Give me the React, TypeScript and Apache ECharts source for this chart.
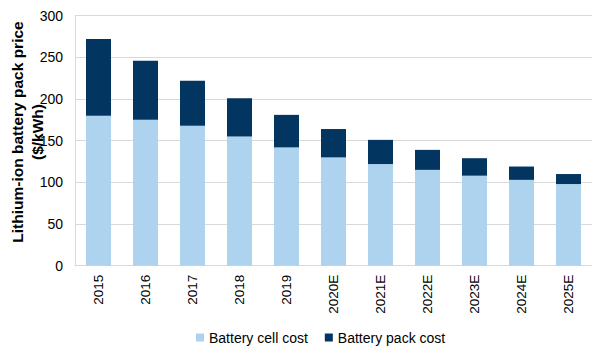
import React, { useEffect, useRef } from "react";
import * as echarts from "echarts";

const categories = ["2015", "2016", "2017", "2018", "2019", "2020E", "2021E", "2022E", "2023E", "2024E", "2025E"];
const cellCost = [180, 175, 168, 155, 142, 130, 122, 115, 108, 103, 98];
const packCost = [92, 71, 54, 46, 39, 34, 29, 24, 21, 16, 12];
const yTicks = { min: 0, max: 300, interval: 50 };

export default function App() {
  const ref = useRef<HTMLDivElement>(null);
  useEffect(() => {
    if (!ref.current) return;
    const chart = echarts.init(ref.current, null, { renderer: "svg" });
    const font = "Liberation Sans, Arial, sans-serif";
    chart.setOption({
      animation: false,
      textStyle: { fontFamily: font },
      grid: { left: 75, top: 15.7, width: 521, height: 250 },
      legend: {
        left: 196,
        top: 330,
        itemWidth: 8,
        itemHeight: 8,
        itemGap: 17,
        padding: 0,
        icon: "rect",
        textStyle: { fontSize: 14, color: "#000", fontFamily: font, lineHeight: 15 },
        data: ["Battery cell cost", "Battery pack cost"],
      },
      graphic: [
        {
          type: "text",
          x: 27,
          y: 132,
          rotation: Math.PI / 2,
          style: {
            text: "Lithium-ion battery pack price\n($/kWh)",
            font: `bold 15.5px ${font}`,
            fill: "#000",
            align: "center",
            verticalAlign: "middle",
            lineHeight: 20,
          },
        },
      ],
      xAxis: {
        type: "category",
        data: categories,
        axisLine: { show: true, lineStyle: { color: "#d9d9d9", width: 1 } },
        axisTick: { show: false },
        axisLabel: { rotate: 90, margin: 9, fontSize: 13.5, color: "#000", fontFamily: font },
      },
      yAxis: {
        type: "value",
        min: yTicks.min,
        max: yTicks.max,
        interval: yTicks.interval,
        axisLine: { show: true, lineStyle: { color: "#d9d9d9", width: 1 } },
        axisTick: { show: false },
        splitLine: { lineStyle: { color: "#d9d9d9", width: 1 } },
        axisLabel: { margin: 12, fontSize: 14, color: "#000", fontFamily: font },
      },
      series: [
        {
          name: "Battery cell cost",
          type: "bar",
          stack: "total",
          data: cellCost,
          barWidth: 25,
          itemStyle: { color: "#AED3EF" },
        },
        {
          name: "Battery pack cost",
          type: "bar",
          stack: "total",
          data: packCost,
          barWidth: 25,
          itemStyle: { color: "#02355F" },
        },
      ],
    });
    return () => chart.dispose();
  }, []);
  return (
    <div
      ref={ref}
      style={{ position: "fixed", left: 0, top: 0, width: 592, height: 347, background: "#fff" }}
    />
  );
}
